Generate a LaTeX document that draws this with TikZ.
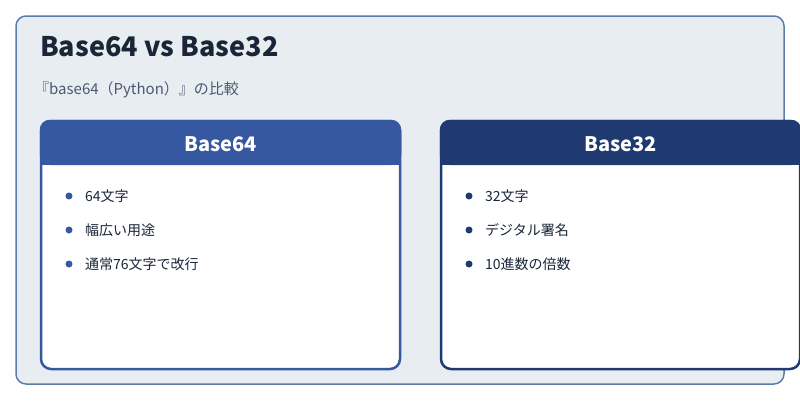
\documentclass[tikz,border=0pt]{standalone}
\usepackage{fontspec}
\setmainfont{Noto Sans CJK JP}
\definecolor{bg}{HTML}{E8EDF2}
\definecolor{frame}{HTML}{5E7BAE}
\definecolor{navy}{HTML}{1A2638}
\definecolor{sub}{HTML}{4A5A72}
\definecolor{blueA}{HTML}{3558A0}
\definecolor{blueB}{HTML}{1E3A70}
\begin{document}
\begin{tikzpicture}[x=1pt,y=-1pt,
  item/.style={anchor=west,font=\fontsize{14}{16}\selectfont,text=navy,inner sep=0},
  hdr/.style={font=\bfseries\fontsize{20}{22}\selectfont,text=white}]
\clip (0,0) rectangle (800,400);
\useasboundingbox (0,0) rectangle (800,400);
\fill[white] (0,0) rectangle (800,400);
\draw[frame,fill=bg,line width=1.5pt,rounded corners=10pt] (16,16) rectangle (784,384);
\node[anchor=west,font=\bfseries\fontsize{27}{30}\selectfont,text=navy,inner sep=0] (title) at (40,47) {Base64 vs Base32};
\node[anchor=west,font=\fontsize{15}{18}\selectfont,text=sub,inner sep=0] (subt) at (34,90) {『base64（Python）』の比較};
\foreach \x/\c/\n in {41/blueA/a,441/blueB/b}{
  \draw[\c,fill=white,line width=2.5pt,rounded corners=10pt] (\x,121) rectangle (\x+359,369);
  \fill[\c,rounded corners=10pt] (\x-1.25,119.75) rectangle (\x+360.25,165);
  \fill[\c] (\x-1.25,150) rectangle (\x+360.25,165);
}
\node[hdr] (ha) at (220.5,144) {Base64};
\node[hdr] (hb) at (620.5,144) {Base32};
\foreach \y/\t [count=\i] in {196/64文字,230/幅広い用途,264/通常76文字で改行}{
  \fill[blueA] (69,\y) circle (3.5pt);
  \node[item] (la\i) at (85,\y) {\t};
}
\foreach \y/\t [count=\i] in {196/32文字,230/デジタル署名,264/10進数の倍数}{
  \fill[blueB] (469,\y) circle (3.5pt);
  \node[item] (lb\i) at (485,\y) {\t};
}
\end{tikzpicture}
\end{document}
